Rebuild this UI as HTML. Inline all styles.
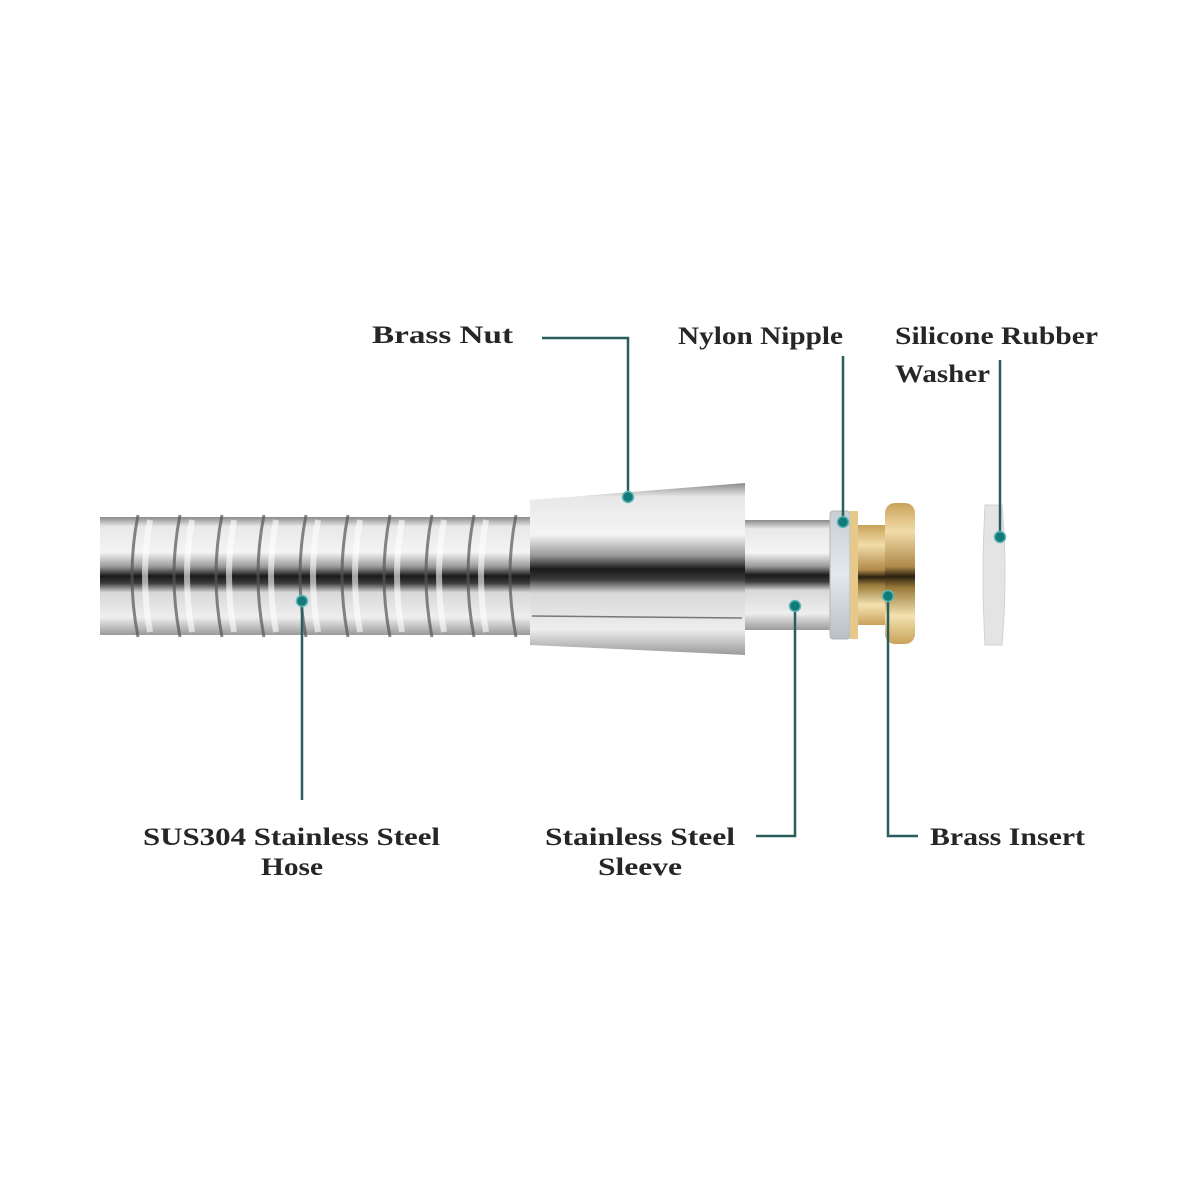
<!DOCTYPE html>
<html><head><meta charset="utf-8"><style>
html,body{margin:0;padding:0;background:#fff}
svg{display:block}
text{font-family:"Liberation Serif",serif;font-weight:bold;font-size:25px;fill:#262626}
</style></head><body>
<svg width="1200" height="1200" viewBox="0 0 1200 1200" xmlns="http://www.w3.org/2000/svg">
<defs>
<linearGradient id="chrome" x1="0" y1="0" x2="0" y2="1">
<stop offset="0" stop-color="#8a8a8a"/><stop offset="0.08" stop-color="#e8e8e8"/>
<stop offset="0.3" stop-color="#f4f4f4"/><stop offset="0.42" stop-color="#9a9a9a"/>
<stop offset="0.5" stop-color="#1a1a1a"/><stop offset="0.56" stop-color="#3a3a3a"/>
<stop offset="0.64" stop-color="#d8d8d8"/><stop offset="0.85" stop-color="#eeeeee"/>
<stop offset="1" stop-color="#9a9a9a"/></linearGradient>
<linearGradient id="brass" x1="0" y1="0" x2="0" y2="1">
<stop offset="0" stop-color="#c9a25a"/><stop offset="0.2" stop-color="#f1dca8"/>
<stop offset="0.45" stop-color="#b08a4a"/><stop offset="0.52" stop-color="#2a2010"/>
<stop offset="0.6" stop-color="#9a7a3a"/><stop offset="0.8" stop-color="#f3e2b0"/>
<stop offset="1" stop-color="#c9a25a"/></linearGradient>
<linearGradient id="ring" x1="0" y1="0" x2="0" y2="1">
<stop offset="0" stop-color="#c8cfd4"/><stop offset="0.5" stop-color="#e2e8ec"/><stop offset="1" stop-color="#b8c0c6"/></linearGradient>
</defs>
<rect x="100" y="517" width="432" height="118" fill="url(#chrome)"/>
<g fill="none" stroke="#555" stroke-width="3" opacity="0.7">
<path d="M138 515 q-12 60 0 122"/><path d="M180 515 q-12 60 0 122"/><path d="M222 515 q-12 60 0 122"/>
<path d="M264 515 q-12 60 0 122"/><path d="M306 515 q-12 60 0 122"/><path d="M348 515 q-12 60 0 122"/>
<path d="M390 515 q-12 60 0 122"/><path d="M432 515 q-12 60 0 122"/><path d="M474 515 q-12 60 0 122"/>
<path d="M516 515 q-12 60 0 122"/></g>
<g fill="none" stroke="#fff" stroke-width="6" opacity="0.6">
<path d="M150 520 q-10 55 0 112"/><path d="M192 520 q-10 55 0 112"/><path d="M234 520 q-10 55 0 112"/>
<path d="M276 520 q-10 55 0 112"/><path d="M318 520 q-10 55 0 112"/><path d="M360 520 q-10 55 0 112"/>
<path d="M402 520 q-10 55 0 112"/><path d="M444 520 q-10 55 0 112"/><path d="M486 520 q-10 55 0 112"/></g>
<path d="M530 500 L745 483 L745 655 L530 645 Z" fill="url(#chrome)"/>
<line x1="532" y1="616" x2="742" y2="618" stroke="#777" stroke-width="1.5"/>
<rect x="745" y="520" width="87" height="110" fill="url(#chrome)"/>
<rect x="830" y="511" width="20" height="128" rx="3" fill="url(#ring)" stroke="#b0b8bd"/>
<rect x="850" y="525" width="40" height="100" fill="url(#brass)"/>
<rect x="885" y="503" width="30" height="141" rx="10" fill="url(#brass)"/>
<rect x="850" y="511" width="8" height="128" fill="#e6c98a"/>
<path d="M985 505 Q981 575 985 645 L1002 645 Q1008 575 1002 505 Z" fill="#e4e4e4" stroke="#d2d2d2"/>
<g fill="none" stroke="#2a5e5e" stroke-width="2.5">
<path d="M542 338 H628 V497"/>
<path d="M843 356 V522"/>
<path d="M1000 360 V537"/>
<path d="M302 601 V800"/>
<path d="M756 836 H795 V606"/>
<path d="M888 596 V836 H918"/>
</g>
<g fill="#137a7a" stroke="#5fb8b8" stroke-width="1.5">
<circle cx="628" cy="497" r="5.5"/><circle cx="843" cy="522" r="5.5"/><circle cx="1000" cy="537" r="5.5"/>
<circle cx="302" cy="601" r="5.5"/><circle cx="795" cy="606" r="5.5"/><circle cx="888" cy="596" r="5.5"/>
</g>
<g lengthAdjust="spacingAndGlyphs">
<text x="372" y="343" textLength="141" lengthAdjust="spacingAndGlyphs">Brass Nut</text>
<text x="678" y="344" textLength="165" lengthAdjust="spacingAndGlyphs">Nylon Nipple</text>
<text x="895" y="344" textLength="203" lengthAdjust="spacingAndGlyphs">Silicone Rubber</text>
<text x="895" y="382" textLength="95" lengthAdjust="spacingAndGlyphs">Washer</text>
<text x="143" y="845" textLength="297" lengthAdjust="spacingAndGlyphs">SUS304 Stainless Steel</text>
<text x="261" y="875" textLength="62" lengthAdjust="spacingAndGlyphs">Hose</text>
<text x="545" y="845" textLength="190" lengthAdjust="spacingAndGlyphs">Stainless Steel</text>
<text x="598" y="875" textLength="84" lengthAdjust="spacingAndGlyphs">Sleeve</text>
<text x="930" y="845" textLength="155" lengthAdjust="spacingAndGlyphs">Brass Insert</text>
</g>
</svg>
</body></html>
